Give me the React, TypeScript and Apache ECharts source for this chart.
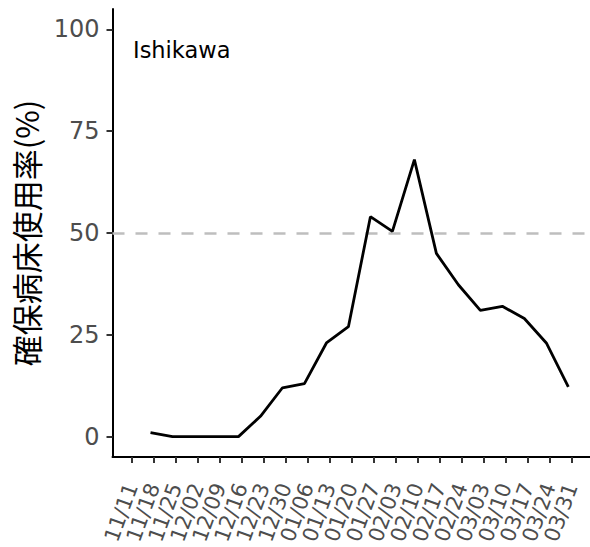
import React, { useEffect, useRef } from "react";
import * as echarts from "echarts";

const tickLabels = [
  "11/11", "11/18", "11/25", "12/02", "12/09", "12/16", "12/23", "12/30",
  "01/06", "01/13", "01/20", "01/27", "02/03", "02/10", "02/17", "02/24",
  "03/03", "03/10", "03/17", "03/24", "03/31",
];

const dataDates = [
  "11/17", "11/24", "12/01", "12/08", "12/15", "12/22", "12/29", "01/05",
  "01/12", "01/19", "01/26", "02/02", "02/09", "02/16", "02/23", "03/02",
  "03/09", "03/16", "03/23", "03/30",
];

const usageRate = [
  1, 0, 0, 0, 0, 5, 12, 13, 23, 27, 54, 50.4, 68, 45, 37.3, 31, 32, 29, 23, 12.2,
];

const yTicks = [0, 25, 50, 75, 100];
const thresholdValue = 50;
const regionName = "Ishikawa";
const yTitle = "確保病床使用率(%)";

function dayOffset(md: string): number {
  const [m, d] = md.split("/").map(Number);
  const y = m >= 11 ? 2021 : 2022;
  return (Date.UTC(y, m - 1, d) - Date.UTC(2021, 10, 11)) / 86400000;
}

const tickDays = tickLabels.map(dayOffset);
const dayToLabel: Record<number, string> = {};
tickLabels.forEach((l, i) => (dayToLabel[tickDays[i]] = l));
// ECharts hides a label next to the first/last one when they overlap,
// so the 2nd and 2nd-to-last labels are drawn by a second, line-less axis.
const n = tickDays.length;
const labelsA = tickDays.filter((_, i) => i !== 1 && i !== n - 2);
const labelsB = [tickDays[1], tickDays[n - 2]];

const X_MIN = -6.1;
const X_MAX = 145.9;

function labelStyle(values: number[]) {
  return {
    customValues: values,
    formatter: (v: number) => dayToLabel[v] ?? "",
    showMinLabel: true,
    showMaxLabel: true,
    hideOverlap: false,
    rotate: 70,
    fontSize: 21,
    fontFamily: "DejaVu Sans",
    color: "#4D4D4D",
    margin: 27,
  };
}

export default function App() {
  const ref = useRef<HTMLDivElement>(null);
  useEffect(() => {
    if (!ref.current) return;
    const chart = echarts.init(ref.current, null, { renderer: "svg" });
    chart.setOption({
      animation: false,
      backgroundColor: "#ffffff",
      grid: {
        left: 112.5,
        right: 0,
        top: 9,
        bottom: 90,
        containLabel: false,
        outerBoundsMode: "none",
      },
      graphic: [
        {
          type: "text",
          left: 133,
          top: 38,
          style: {
            text: regionName,
            fontSize: 22.5,
            fontFamily: "DejaVu Sans",
            fill: "#000000",
          },
        },
      ],
      xAxis: [
        {
          type: "value",
          position: "bottom",
          min: X_MIN,
          max: X_MAX,
          splitLine: { show: false },
          axisLine: {
            show: true,
            onZero: false,
            lineStyle: { color: "#000000", width: 2 },
          },
          axisTick: {
            show: true,
            customValues: tickDays,
            length: 6,
            lineStyle: { color: "#333333", width: 2 },
          },
          axisLabel: labelStyle(labelsA),
        },
        {
          type: "value",
          position: "bottom",
          offset: 0,
          min: X_MIN,
          max: X_MAX,
          splitLine: { show: false },
          axisLine: { show: false, onZero: false },
          axisTick: { show: false },
          axisLabel: labelStyle(labelsB),
        },
      ],
      yAxis: {
        type: "value",
        min: -5,
        max: 105,
        name: yTitle,
        nameLocation: "middle",
        nameRotate: 90,
        nameGap: 72,
        nameTextStyle: {
          fontSize: 31,
          fontFamily: "Noto Sans CJK JP",
          color: "#000000",
        },
        splitLine: { show: false },
        axisLine: {
          show: true,
          onZero: false,
          lineStyle: { color: "#000000", width: 2 },
        },
        axisTick: {
          show: true,
          customValues: yTicks,
          length: 6,
          lineStyle: { color: "#333333", width: 2 },
        },
        axisLabel: {
          customValues: yTicks,
          showMinLabel: true,
          showMaxLabel: true,
          fontSize: 24,
          fontFamily: "DejaVu Sans",
          color: "#4D4D4D",
          margin: 13,
        },
      },
      series: [
        {
          type: "line",
          xAxisIndex: 0,
          data: dataDates.map((d, i) => [dayOffset(d), usageRate[i]]),
          showSymbol: false,
          symbol: "none",
          lineStyle: { color: "#000000", width: 2.8 },
          z: 3,
          markLine: {
            silent: true,
            symbol: "none",
            label: { show: false },
            lineStyle: { color: "#BEBEBE", width: 2.5, type: [12, 11] },
            data: [{ yAxis: thresholdValue }],
            z: 1,
          },
        },
      ],
    });
    return () => chart.dispose();
  }, []);
  return (
    <div
      ref={ref}
      style={{ position: "fixed", left: 0, top: 0, width: 590, height: 547 }}
    />
  );
}
